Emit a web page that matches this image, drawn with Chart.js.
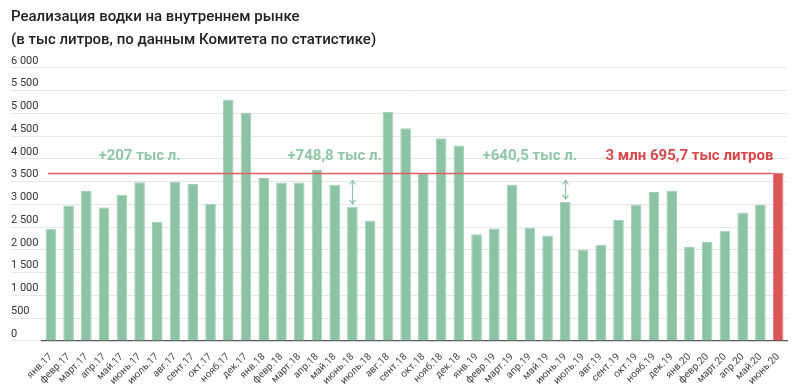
<!DOCTYPE html>
<html lang="ru">
<head>
<meta charset="utf-8">
<title>Реализация водки на внутреннем рынке</title>
<script src="https://cdn.jsdelivr.net/npm/chart.js@4.4.1/dist/chart.umd.min.js"></script>
<style>
  html, body { margin: 0; padding: 0; background: #fff; }
  #wrap { width: 800px; height: 390px; }
</style>
</head>
<body>
<div id="wrap"><canvas id="chart"></canvas></div>
<script>
(function () {
  'use strict';

  /* global Chart */

  var MONTHS = [
    'янв.17', 'февр.17', 'март.17', 'апр.17', 'май.17', 'июнь.17',
    'июль.17', 'авг.17', 'сент.17', 'окт.17', 'нояб.17', 'дек.17',
    'янв.18', 'февр.18', 'март.18', 'апр.18', 'май.18', 'июнь.18',
    'июль.18', 'авг.18', 'сент.18', 'окт.18', 'нояб.18', 'дек.18',
    'янв.19', 'февр.19', 'март.19', 'апр.19', 'май.19', 'июнь.19',
    'июль.19', 'авг.19', 'сент.19', 'окт.19', 'нояб.19', 'дек.19',
    'янв.20', 'февр.20', 'март.20', 'апр.20', 'май.20', 'июнь.20'
  ];

  // thousand litres (last one is the reported figure)
  var VOLUMES = [
    2464, 2974, 3294, 2930, 3214, 3489,
    2617, 3499, 3448, 3017, 5306, 5015,
    3579, 3484, 3484, 3754, 3433, 2947,
    2646, 5029, 4672, 3688, 4453, 4293,
    2347, 2471, 3433, 2485, 2318, 3055,
    2004, 2114, 2660, 2996, 3273, 3294,
    2063, 2172, 2420, 2821, 2988, 3695.7
  ];

  var Y_MAX = 6000;
  var Y_STEP = 500;

  var TITLE_LINES = [
    'Реализация водки на внутреннем рынке',
    '(в тыс литров, по данным Комитета по статистике)'
  ];

  // June-over-June gains and where they sit
  var GAIN_LABELS = ['+207 тыс л.', '+748,8 тыс л.', '+640,5 тыс л.'];
  var GAIN_AT = ['июнь.17', 'май.18', 'апр.19'];
  var ARROW_AT = ['июнь.18', 'июнь.19'];
  var TOTAL_LABEL = '3 млн 695,7 тыс литров';
  var TOTAL_AT = 'янв.20';
  var LABEL_LEVEL = 4060;

  var GREEN = '#8cc3a5';
  var GREEN_EDGE = '#a4d0b7';
  var RED = '#d95557';
  var FONT = "Roboto, 'Noto Sans', sans-serif";

  var last = VOLUMES.length - 1;
  var barColors = VOLUMES.map(function (v, i) { return i === last ? RED : GREEN; });
  var edgeColors = VOLUMES.map(function (v, i) { return i === last ? '#e07476' : GREEN_EDGE; });

  function fmt(v) {
    return String(v).replace(/\B(?=(\d{3})+(?!\d))/g, ' ');
  }

  var notesPlugin = {
    id: 'notes',
    afterDatasetsDraw: function (chart) {
      var c = chart.ctx;
      var x = chart.scales.x;
      var y = chart.scales.y;
      var bars = chart.getDatasetMeta(0).data;
      var current = VOLUMES[last];
      var yLine = Math.round(y.getPixelForValue(current)) + 0.5;
      var lastBar = bars[last];

      c.save();

      // reference line at the current June level
      c.strokeStyle = '#e0605f';
      c.lineWidth = 1.3;
      c.beginPath();
      c.moveTo(x.getPixelForValue(0) - 3, yLine);
      c.lineTo(lastBar.x - lastBar.width / 2, yLine);
      c.stroke();

      // double arrows from the line down to earlier Junes
      c.strokeStyle = GREEN;
      c.lineWidth = 1.2;
      ARROW_AT.forEach(function (m) {
        var i = MONTHS.indexOf(m);
        var ax = Math.round(x.getPixelForValue(i)) + 0.5;
        var top = yLine + 7;
        var bottom = y.getPixelForValue(VOLUMES[i]) - 3;
        c.beginPath();
        c.moveTo(ax, top);
        c.lineTo(ax, bottom);
        c.moveTo(ax - 3, top + 4);
        c.lineTo(ax, top);
        c.lineTo(ax + 3, top + 4);
        c.moveTo(ax - 3, bottom - 4);
        c.lineTo(ax, bottom);
        c.lineTo(ax + 3, bottom - 4);
        c.stroke();
      });

      c.font = 'bold 15px ' + FONT;
      c.textAlign = 'center';
      c.textBaseline = 'middle';
      var ty = y.getPixelForValue(LABEL_LEVEL);
      c.fillStyle = '#90c6a8';
      GAIN_LABELS.forEach(function (t, k) {
        c.fillText(t, x.getPixelForValue(MONTHS.indexOf(GAIN_AT[k])), ty);
      });
      c.fillStyle = '#d9474b';
      c.fillText(TOTAL_LABEL, x.getPixelForValue(MONTHS.indexOf(TOTAL_AT)), ty);

      c.restore();
    }
  };

  new Chart(document.getElementById('chart'), {
    type: 'bar',
    data: {
      labels: MONTHS,
      datasets: [{
        data: VOLUMES,
        backgroundColor: barColors,
        borderColor: edgeColors,
        borderWidth: 1,
        categoryPercentage: 1,
        barPercentage: 0.6
      }]
    },
    options: {
      responsive: true,
      maintainAspectRatio: false,
      animation: false,
      layout: { padding: { left: 11, right: 13, top: 0, bottom: 1 } },
      plugins: {
        legend: { display: false },
        tooltip: { enabled: false },
        title: {
          display: true,
          text: TITLE_LINES,
          align: 'start',
          color: '#222',
          font: { family: FONT, size: 15, weight: '500', lineHeight: 1.53 },
          padding: { top: 6, bottom: 16 }
        }
      },
      scales: {
        x: {
          grid: { display: false },
          border: { display: true, color: '#555', width: 1.3 },
          ticks: {
            autoSkip: false,
            minRotation: 45,
            maxRotation: 45,
            padding: 2,
            color: '#444',
            font: { family: FONT, size: 10 }
          }
        },
        y: {
          min: 0,
          max: Y_MAX,
          afterFit: function (scale) { scale.width = 31; },
          border: { display: false },
          grid: { color: '#e6e6e6', lineWidth: 1, tickLength: 31, drawTicks: true },
          ticks: {
            stepSize: Y_STEP,
            crossAlign: 'far',
            padding: 0,
            labelOffset: -7,
            color: '#333',
            font: { family: FONT, size: 11 },
            callback: function (v) { return fmt(v); }
          }
        }
      }
    },
    plugins: [notesPlugin]
  });
})();
</script>
</body>
</html>
